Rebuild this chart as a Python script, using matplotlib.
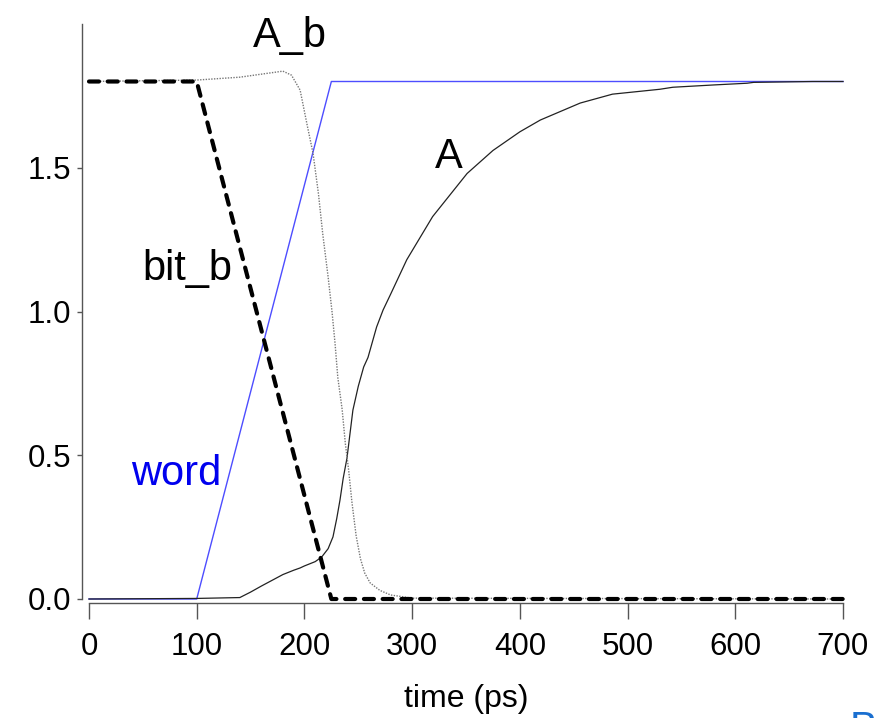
#!/usr/bin/env python3

import matplotlib
import matplotlib.pyplot as plt

matplotlib.use('Agg')

# time axis in ps, voltages in V
t_word = [0, 100, 225, 700]
v_word = [0, 0, 1.8, 1.8]

t_bit_b = [0, 100, 225, 700]
v_bit_b = [1.8, 1.8, 0, 0]

t_a_b = [0, 100, 140, 180, 188, 196, 203, 208, 213, 217, 222, 225.6, 228.4, 231, 235,
         238, 241, 244, 248, 252, 256, 261, 270, 280, 300, 700]
v_a_b = [1.8, 1.805, 1.815, 1.836, 1.822, 1.77, 1.64, 1.55, 1.41, 1.27, 1.12, 1.0, 0.89,
         0.77, 0.66, 0.54, 0.45, 0.34, 0.22, 0.14, 0.09, 0.056, 0.03, 0.014, 0.003, 0.0]

t_a = [0, 100, 140, 150, 160, 170, 180, 190, 196, 200, 210, 216, 222, 226.5, 230, 233,
       236, 239.5, 245, 250, 255, 259, 267, 273, 280, 295, 319, 351, 375, 400, 419, 456,
       486, 530, 542, 580, 611, 617, 672, 700]
v_a = [0, 0.002, 0.005, 0.024, 0.045, 0.065, 0.085, 0.1, 0.108, 0.115, 0.13, 0.146, 0.175,
       0.216, 0.28, 0.344, 0.42, 0.49, 0.657, 0.74, 0.807, 0.84, 0.946, 1.005, 1.06, 1.18,
       1.33, 1.48, 1.56, 1.625, 1.666, 1.725, 1.756, 1.773, 1.78, 1.788, 1.794, 1.797,
       1.8, 1.8]

x_ticks = [0, 100, 200, 300, 400, 500, 600, 700]
y_ticks = [0.0, 0.5, 1.0, 1.5]
y_tick_labels = ['0.0', '0.5', '1.0', '1.5']

plt.rcParams['font.family'] = ['Liberation Sans', 'DejaVu Sans']


def run(figure):
    fig = plt.figure(figsize=(8.81, 7.18), dpi=100)
    ax = fig.add_axes([89 / 881, 119 / 718, 754 / 881, 575 / 718])

    ax.plot(t_word, v_word, color='#4d4dff', lw=1.0, clip_on=False)
    ax.plot(t_a, v_a, color='#222222', lw=0.9, clip_on=False)
    ax.plot(t_a_b, v_a_b, color='#777777', lw=1.0, linestyle=(0, (1, 1)), clip_on=False)
    ax.plot(t_bit_b, v_bit_b, color='black', lw=3.0, linestyle=(0, (2.4, 2.1)),
            dash_capstyle='round', clip_on=False)

    ax.set_xlim(0, 700)
    ax.set_ylim(0, 2.0)

    for side in ['top', 'right']:
        ax.spines[side].set_visible(False)
    ax.spines['left'].set_position(('outward', 5))
    ax.spines['bottom'].set_position(('outward', 3))
    ax.spines['left'].set_bounds(0, 2.0)
    ax.spines['bottom'].set_bounds(0, 700)
    for side in ['left', 'bottom']:
        ax.spines[side].set_color('#555555')
        ax.spines[side].set_linewidth(1.0)

    ax.set_xticks(x_ticks)
    ax.set_yticks(y_ticks)
    ax.set_yticklabels(y_tick_labels)
    ax.tick_params(axis='x', length=11.5, width=1.0, color='#555555', pad=9, labelsize=22.5)
    ax.tick_params(axis='y', length=3.6, width=1.0, color='#555555', pad=4, labelsize=22.5)

    ax.set_xlabel('time (ps)', fontsize=23, labelpad=16)

    ax.text(152, 1.92, 'A_b', fontsize=30, va='baseline')
    ax.text(321, 1.50, 'A', fontsize=30, va='baseline')
    ax.text(50, 1.11, 'bit_b', fontsize=30, va='baseline')
    ax.text(39, 0.397, 'word', fontsize=30, va='baseline', color='#0000ee')

    # cut-off letter in the lower right corner of the slide
    fig.text(850 / 881, 8 / 718, 'B', fontsize=30, va='top', color='#1a6fd0')

    fig.savefig(figure, dpi=100)


if __name__ == '__main__':
    run(figure='out.png')
